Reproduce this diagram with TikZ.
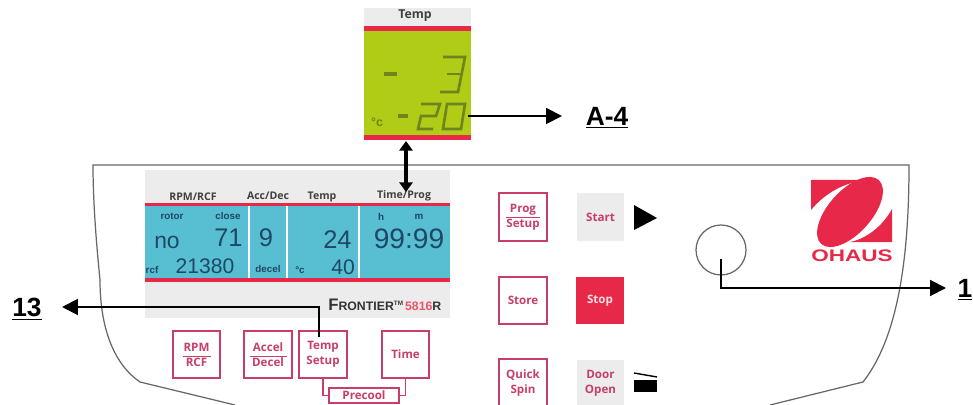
\documentclass[tikz,border=0pt]{standalone}
\usepackage{fontspec}
\setmainfont{Liberation Sans}
\newfontfamily\keyfont{Open Sans}
\usetikzlibrary{arrows.meta,calc,shapes.geometric}
\definecolor{ohred}{RGB}{232,40,72}
\definecolor{keyred}{RGB}{200,62,104}
\definecolor{lcdblue}{RGB}{88,190,210}
\definecolor{lcdgreen}{RGB}{176,204,22}
\definecolor{lcdseg}{RGB}{112,132,30}
\definecolor{panelgrey}{RGB}{236,236,236}
\definecolor{digitblue}{RGB}{30,72,100}
\newcommand{\fsz}[1]{\fontsize{#1}{#1}\selectfont}
\newcommand{\keyfrac}[3]{#2\\[-3.5pt]\rule{#1}{0.5pt}\\[-1.2pt]#3}

\begin{document}
\begin{tikzpicture}[x=0.02cm, y=-0.02cm, >={Triangle[length=9pt,width=9pt]},
      lead/.style={->, line width=1.1pt, black},
      callout/.style={font=\fsz{15}\bfseries, inner sep=0pt},
      outline/.style={draw=black!60, line width=0.7pt},
      keybox/.style={draw=keyred, line width=0.9pt, minimum size=0.95cm, inner sep=0pt, align=center,
        font=\keyfont\fsz{6.6}\bfseries, text=keyred},
      keygrey/.style={keybox, draw=none, fill=panelgrey},
      bar/.style={fill=ohred, draw=none},
      seg/.style={draw=lcdseg, line width=1.5pt, line join=miter},
      head/.style={font=\keyfont\fsz{6}\bfseries, text=black!75, inner sep=0pt},
      tiny/.style={font=\fsz{5.6}\bfseries, text=digitblue, inner sep=0pt},
      big/.style={font=\fsz{14.5}, text=digitblue, inner sep=0pt},
      mid/.style={font=\fsz{12}, text=digitblue, inner sep=0pt}]
  \clip (0,0) rectangle (973,405);
  \fill[white] (0,0) rectangle (973,405);

  % housing
  \draw[outline] (100,280) .. controls (100,330) and (115,365) .. (140,382) -- (235,405);
  \draw[outline] (100,280) .. controls (96,240) and (93,200) .. (93,165) -- (909,165)
    .. controls (909,250) and (900,335) .. (863,382) -- (770,405);

  % enlarged temperature display
  \fill[panelgrey] (364,8) rectangle (471,26);
  \fill[lcdgreen] (364,31) rectangle (471,135);
  \fill[bar] (364,26) rectangle (471,31);
  \fill[bar] (364,135) rectangle (471,140);
  \node[head, font=\keyfont\fsz{7}\bfseries] (ttemp) at (415,16) {Temp};
  \node[font=\fsz{7}\bfseries, text=lcdseg, inner sep=0pt] (tunit) at (377,122) {°c};
  \draw[seg, line width=2pt] (384,74) -- (397,74);
  \draw[seg] (443,57) -- (465,57) -- (458,92) -- (440,92);
  \draw[seg] (447,74) -- (461,74);
  \draw[seg, line width=2pt] (398,116) -- (408,116);
  \draw[seg] (421,104) -- (440,104) -- (436,116) -- (421,116) -- (418,129) -- (433,129);
  \draw[seg] (447,104) -- (465,104) -- (461,129) -- (443,129) -- cycle;
  \coordinate (ta) at (468,116);
  \coordinate (tb) at (562,116);
  \draw[lead] (ta) -- (tb);
  \node[callout] (la4) at (607,118) {\underline{A-4}};

  % main display
  \fill[panelgrey] (145,170) rectangle (450,318);
  \fill[lcdblue] (145,206) rectangle (450,278);
  \fill[bar] (145,203) rectangle (450,206);
  \fill[bar] (145,278) rectangle (450,282);
  \foreach \px in {249,287,359}
    \fill[white] (\px-1,206) rectangle (\px+1,278);
  \node[head] (hrpm) at (193,197) {RPM/RCF};
  \node[head] (hacc) at (268,196) {Acc/Dec};
  \node[head] (htemp) at (322,197) {Temp};
  \node[head] (htime) at (404,196) {Time/Prog};
  \node[tiny] (trotor) at (172,216) {rotor};
  \node[tiny] (tclose) at (228,216) {close};
  \node[tiny] (th) at (381,217) {h};
  \node[tiny] (tm) at (419,217) {m};
  \node[big, font=\fsz{13}] (tno) at (167,242) {no};
  \node[big, anchor=east] (d71) at (243,238) {71};
  \node[big] (d9) at (266,238) {9};
  \node[big, anchor=east] (d24) at (352,240) {24};
  \node[big, font=\fsz{16}] (d99) at (409,239) {99:99};
  \node[tiny] (trcf) at (152,270) {rcf};
  \node[mid] (drcf) at (205,266) {21380};
  \node[tiny] (tdecel) at (268,269) {decel};
  \node[tiny] (tc) at (300,270) {°c};
  \node[mid] (d40) at (343,267) {40};
  \node[inner sep=0pt, anchor=west, font=\fsz{7}\bfseries, text=black!80] (tfront) at (328,305)
    {{\fsz{9.5}F}RONTIER\raisebox{3pt}{\fsz{3.6}TM}\,\textcolor{ohred!80}{5816}R};

  % bottom row of keys
  \node[keybox] (brpm) at (196.5,354.5) {\keyfrac{0.56cm}{RPM}{RCF}};
  \node[keybox] (bacc) at (268,354.5) {\keyfrac{0.74cm}{Accel}{Decel}};
  \node[keybox] (btemp) at (323,354.5) {Temp\\[1.9pt]Setup};
  \node[keybox] (btime) at (405.5,354.5) {Time};
  \node[keybox, minimum size=0pt, minimum width=1.4cm, minimum height=0.3cm] (bpre) at (364,395.5) {Precool};
  \draw[keybox] (btemp.south) |- (bpre.west);
  \draw[keybox] (btime.south) |- (bpre.east);
  \coordinate (ka) at (319,337);
  \coordinate (kb) at (62,307);
  \draw[lead] (ka) |- (kb);
  \node[callout] (l13) at (27,309) {\underline{13}};

  % right hand keys
  \node[keybox] (bprog) at (523,217) {\keyfrac{0.68cm}{Prog}{Setup}};
  \node[keygrey] (bstart) at (600.5,217) {Start};
  \node[keybox] (bstore) at (523,300.5) {Store};
  \node[keybox, draw=none, fill=ohred, text=white!85!ohred] (bstop) at (600,300.5) {Stop};
  \node[keybox] (bquick) at (523,383) {Quick\\[1.9pt]Spin};
  \node[keygrey] (bdoor) at (600.5,383.5) {Door\\[1.9pt]Open};
  \fill[black] (634,205) -- (657,218) -- (634,230) -- cycle;
  \fill[black] (634,380) rectangle (657,392);
  \draw[black, line width=0.8pt] (634,373) -- (657,377);

  % arrow between displays
  \coordinate (ua) at (406,192);
  \draw[{Triangle[length=5.5pt,width=7.5pt]}-{Triangle[length=5.5pt,width=7.5pt]}, line width=2pt, black]
    (406,141) -- (ua);

  % knob
  \node[circle, draw=black!60, line width=0.7pt, minimum size=1cm, inner sep=0pt] (knob) at (721,250) {};
  \coordinate (na) at (721,259);
  \coordinate (nb) at (946,288);
  \draw[lead] (na) |- (nb);
  \node[callout, anchor=east] (l1) at (972.5,290) {\underline{1}};

  % logo
  \fill[ohred] (811,180) -- (867,180) .. controls (845,182) and (825,193) .. (811,210) -- cycle;
  \fill[ohred] (892,209) -- (892,242) -- (850,242) .. controls (870,238) and (885,222) .. (892,209) -- cycle;
  \fill[ohred] (850,212) ellipse [x radius=0.86cm, y radius=0.43cm, rotate=48];
  \node[inner sep=0pt, text=ohred, font=\fsz{9.5}\bfseries] (lohaus) at (852,256)
    {\scalebox{1.35}[1]{OHAUS}};
\end{tikzpicture}
\end{document}
